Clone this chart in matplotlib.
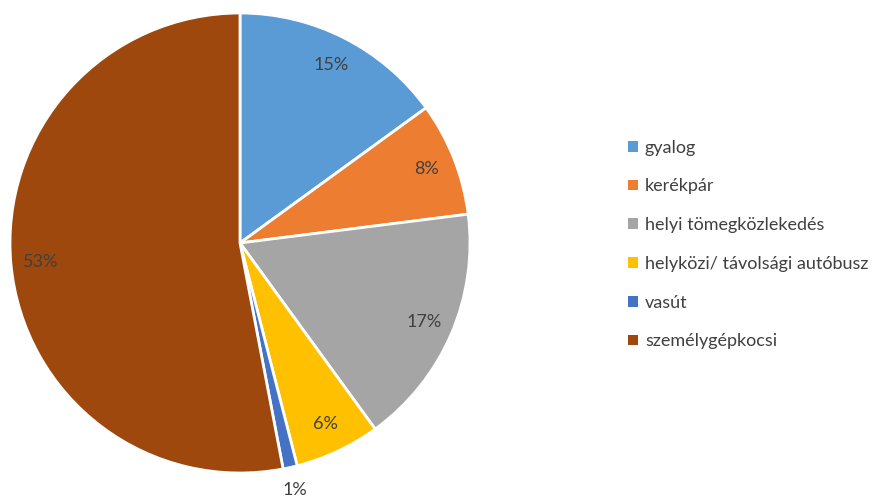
import numpy as np
import matplotlib.pyplot as plt
from matplotlib.patches import Patch

# modal split (share of trips)
categories = ['gyalog', 'kerékpár', 'helyi tömegközlekedés',
              'helyközi/ távolsági autóbusz', 'vasút', 'személygépkocsi']
shares = [15, 8, 17, 6, 1, 53]
colors = ['#5B9BD5', '#ED7D31', '#A5A5A5', '#FFC000', '#4472C4', '#9E480E']

plt.rcParams['font.family'] = ['Lato', 'DejaVu Sans']

fig = plt.figure(figsize=(8.83, 4.97), dpi=100)
ax = fig.add_axes([10 / 883, 24 / 497, 460 / 883, 460 / 497])

wedges, _ = ax.pie(shares, colors=colors, startangle=90, counterclock=False,
                   radius=1, wedgeprops=dict(edgecolor='white', linewidth=2))
ax.set_xlim(-1, 1)
ax.set_ylim(-1, 1)
ax.set_aspect('equal')
ax.axis('off')

# percentage labels, the tiny slice gets its label outside
for w, v in zip(wedges, shares):
    ang = np.deg2rad((w.theta1 + w.theta2) / 2)
    r = 0.87 if v > 2 else 1.1
    ax.text(r * np.cos(ang), r * np.sin(ang), '%d%%' % v, ha='center', va='center',
            fontsize=13, color='#404040')

handles = [Patch(facecolor=c, edgecolor='none') for c in colors]
fig.legend(handles, categories, loc='center left', bbox_to_anchor=(0.711, 0.508),
           frameon=False, fontsize=13, handlelength=0.55, handleheight=0.55,
           handletextpad=0.4, labelspacing=1.26, labelcolor='#404040',
           borderaxespad=0, borderpad=0)

fig.savefig('out.png', dpi=100)
